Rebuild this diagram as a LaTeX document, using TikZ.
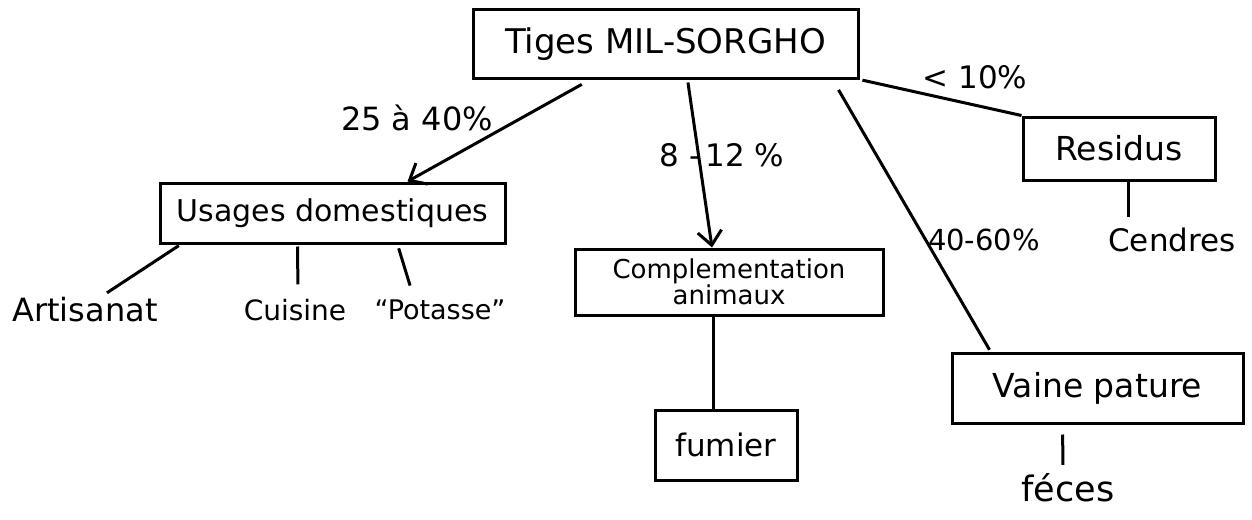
\documentclass[tikz,border=0pt]{standalone}
\usepackage{fontspec}
\setmainfont{DejaVu Sans}
\usetikzlibrary{arrows.meta}
\newcommand{\fsz}[1]{\fontsize{#1}{#1}\selectfont}

\begin{document}
\begin{tikzpicture}[x=1pt,y=-1pt,line width=3pt,
  boite/.style={draw,inner sep=0pt,line width=3pt},
  fleche/.style={-{Straight Barb[length=14pt,width=24pt,line width=3pt]}}]
\useasboundingbox (0,0) rectangle (1252,519);

% boites
\node[boite,minimum width=385pt,minimum height=68pt,font=\fsz{34}] (tiges) at (665.5,44) {Tiges MIL-SORGHO};
\node[boite,minimum width=345pt,minimum height=60pt,font=\fsz{30}] (usages) at (332.5,213) {Usages domestiques};
\node[boite,minimum width=308pt,minimum height=66pt,font=\fsz{26},align=center] (compl) at (729,282) {Complementation\\animaux};
\node[boite,minimum width=142pt,minimum height=70pt,font=\fsz{31}] (fumier) at (726,445) {fumier};
\node[boite,minimum width=192pt,minimum height=63pt,font=\fsz{33}] (residus) at (1119,148.5) {Residus};
\node[boite,minimum width=291pt,minimum height=70pt,font=\fsz{33}] (vaine) at (1097.5,388) {Vaine pature};

% textes
\node[font=\fsz{32}] (artisanat) at (85,310) {Artisanat};
\node[font=\fsz{28}] (cuisine) at (295,310) {Cuisine};
\node[font=\fsz{27}] (potasse) at (440,310) {``Potasse''};
\node[font=\fsz{31}] (cendres) at (1172,240) {Cendres};
\node[font=\fsz{35}] (feces) at (1068,488) {féces};

% pourcentages
\node[font=\fsz{32}] (p-usages) at (417,118) {25 à 40\%};
\node[font=\fsz{31}] (p-compl) at (722,155) {8 -\,12 \%};
\node[font=\fsz{31}] (p-residus) at (975,77) {< 10\%};
\node[font=\fsz{29}] (p-vaine) at (984,240) {40-60\%};

% liaisons
\draw[fleche,shorten <=10pt] ([xshift=-75pt]tiges.south) -- ([xshift=75pt]usages.north);
\draw[fleche,shorten <=3pt] ([xshift=22pt]tiges.south) -- ([xshift=-17pt]compl.north);
\draw[shorten <=12pt,shorten >=2pt] ([xshift=167pt]tiges.south) -- ([xshift=-107pt]vaine.north);
\draw[shorten <=3pt] (tiges.south east) -- (residus.north west);

\draw[shorten <=2pt] ([xshift=-152pt]usages.south) -- ([xshift=22pt]artisanat.north);
\draw[shorten <=2pt,shorten >=10pt] ([xshift=-35pt]usages.south) -- ([xshift=3pt]cuisine.north);
\draw[shorten <=4pt,shorten >=10pt] ([xshift=65pt]usages.south) -- ([xshift=-27pt]potasse.north);

\draw ([xshift=-16pt]compl.south) -- ([xshift=-16pt]compl.south |- fumier.north);
\draw[shorten >=6pt] ([xshift=9pt]residus.south) -- ([xshift=-44pt]cendres.north);
\draw[shorten <=10pt,shorten >=4pt] ([xshift=-35pt]vaine.south) -- ([xshift=-5pt]feces.north);
\end{tikzpicture}
\end{document}
